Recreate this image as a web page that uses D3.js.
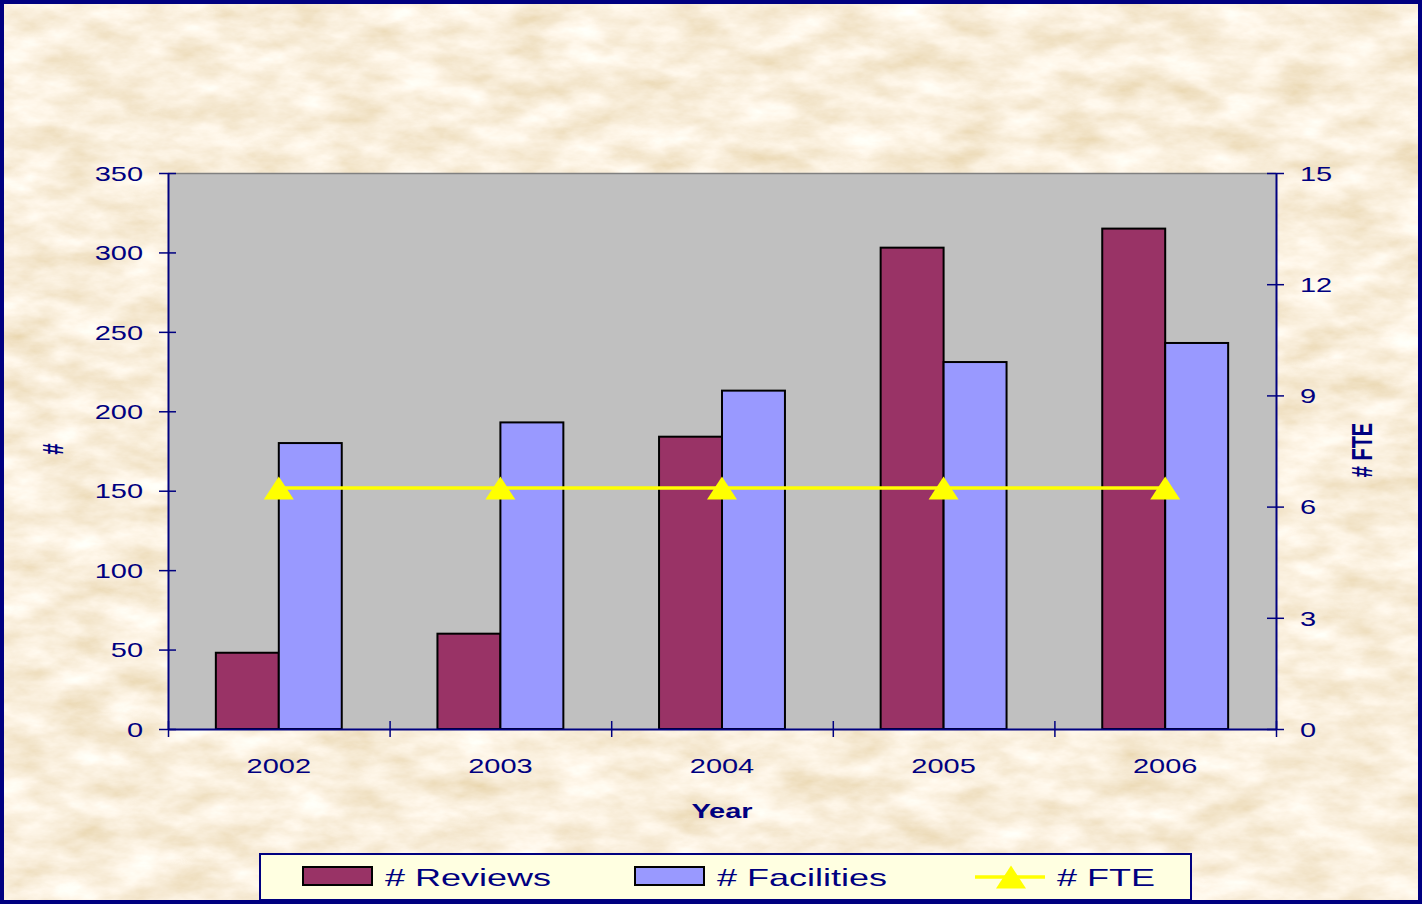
<!DOCTYPE html>
<html>
<head>
<meta charset="utf-8">
<script src="https://cdn.jsdelivr.net/npm/d3@7"></script>
<style>
  body { margin: 0; background: #fff; }
  svg { display: block; font-family: "Liberation Sans", Arial, sans-serif; }
</style>
</head>
<body>
<div id="chart"></div>
<script>
// data
const years = ["2002", "2003", "2004", "2005", "2006"]
const reviews = [48, 60, 184, 303, 315]
const facilities = [180, 193, 213, 231, 243]
const fte = [6.5, 6.5, 6.5, 6.5, 6.5]
const leftTicks = [0, 50, 100, 150, 200, 250, 300, 350]
const rightTicks = [0, 3, 6, 9, 12, 15]
const seriesNames = ["# Reviews", "# Facilities", "# FTE"]
const colors = ["#993366", "#9999ff", "#ffff00"]

const width = 1422, height = 904
const plot = {left: 168, right: 1276, top: 173, bottom: 729}
const navy = "#000080"
const sx = 1.45   // the original is stretched sideways

const svg = d3.select("#chart")
  .append("svg")
  .attr("width", width)
  .attr("height", height)
  .attr("viewBox", [0, 0, width, height])

// parchment background
const defs = svg.append("defs")
const f = defs.append("filter").attr("id", "paper")
  .attr("x", 0).attr("y", 0).attr("width", width).attr("height", height)
  .attr("filterUnits", "userSpaceOnUse")
f.append("feTurbulence")
  .attr("type", "fractalNoise")
  .attr("baseFrequency", "0.018 0.04")
  .attr("numOctaves", 5)
  .attr("seed", 7)
  .attr("result", "n")
f.append("feColorMatrix")
  .attr("in", "n")
  .attr("type", "matrix")
  .attr("values", "0.30 0 0 0 0.80  0.42 0 0 0 0.65  0.65 0 0 0 0.39  0 0 0 0 1")

svg.append("rect")
  .attr("width", width).attr("height", height)
  .attr("filter", "url(#paper)")

svg.append("rect")
  .attr("x", 2).attr("y", 2)
  .attr("width", width - 4).attr("height", height - 4)
  .attr("fill", "none")
  .attr("stroke", navy)
  .attr("stroke-width", 4)

// scales
const x0 = d3.scaleBand(years, [plot.left, plot.right])
const x1 = d3.scaleBand(["r", "f"], [0, x0.bandwidth()]).paddingOuter(0.76)
const xEdge = d3.scaleLinear([0, years.length], [plot.left, plot.right])
const y = d3.scaleLinear([0, 350], [plot.bottom, plot.top])
const y2 = d3.scaleLinear([0, 15], [plot.bottom, plot.top])

// plot area
svg.append("rect")
  .attr("x", plot.left).attr("y", plot.top)
  .attr("width", plot.right - plot.left)
  .attr("height", plot.bottom - plot.top)
  .attr("fill", "#c0c0c0")
svg.append("line")
  .attr("x1", plot.left).attr("x2", plot.right)
  .attr("y1", plot.top + 0.5).attr("y2", plot.top + 0.5)
  .attr("stroke", "#808080").attr("stroke-width", 1.5)

// bars
const rows = years.map((d, i) => ({year: d, r: reviews[i], f: facilities[i]}))
svg.append("g")
  .selectAll("g")
  .data(rows)
  .join("g")
    .attr("transform", d => `translate(${x0(d.year)},0)`)
  .selectAll("rect")
  .data(d => [{k: "r", v: d.r}, {k: "f", v: d.f}])
  .join("rect")
    .attr("x", d => x1(d.k))
    .attr("y", d => y(d.v))
    .attr("width", x1.bandwidth())
    .attr("height", d => y(0) - y(d.v))
    .attr("fill", d => d.k == "r" ? colors[0] : colors[1])
    .attr("stroke", "#000")
    .attr("stroke-width", 2)

// axes
function styleAxis(g) {
  g.select(".domain").attr("stroke", navy).attr("stroke-width", 2)
  g.selectAll(".tick line").attr("stroke", navy).attr("stroke-width", 1.5)
  g.selectAll(".tick text")
    .attr("fill", navy)
    .attr("font-size", 20)
    .attr("font-family", "Liberation Sans, Arial, sans-serif")
}

const gl = svg.append("g")
  .attr("transform", `translate(${plot.left},0)`)
  .call(d3.axisLeft(y).tickValues(leftTicks).tickSizeOuter(0))
  .call(styleAxis)
gl.selectAll(".tick line").attr("x1", 8).attr("x2", -9)
gl.selectAll(".tick text")
  .attr("x", -25 / sx)
  .attr("dy", "0.36em")
  .attr("transform", `scale(${sx},1)`)

const gr = svg.append("g")
  .attr("transform", `translate(${plot.right},0)`)
  .call(d3.axisRight(y2).tickValues(rightTicks).tickSizeOuter(0))
  .call(styleAxis)
gr.selectAll(".tick line").attr("x1", -9).attr("x2", 8)
gr.selectAll(".tick text")
  .attr("x", 24 / sx)
  .attr("dy", "0.36em")
  .attr("transform", `scale(${sx},1)`)

const gb = svg.append("g")
  .attr("transform", `translate(0,${plot.bottom})`)
  .call(d3.axisBottom(xEdge).tickValues(d3.range(years.length + 1)).tickFormat("").tickSizeOuter(0))
  .call(styleAxis)
gb.selectAll(".tick line").attr("y1", -8).attr("y2", 8)

const gbl = svg.append("g")
  .attr("transform", `translate(0,${plot.bottom})`)
  .call(d3.axisBottom(x0).tickSize(0))
  .call(styleAxis)
gbl.select(".domain").remove()
gbl.selectAll(".tick text")
  .attr("y", 44).attr("dy", 0)
  .attr("transform", `scale(${sx},1)`)

// FTE line
const lineX = (d, i) => x0(years[i]) + x0.bandwidth() / 2
svg.append("path")
  .datum(fte)
  .attr("fill", "none")
  .attr("stroke", colors[2])
  .attr("stroke-width", 3.5)
  .attr("d", d3.line().x(lineX).y(d => y2(d)))

const tri = "M0,-11.5L15,11.5L-15,11.5Z"
svg.append("g")
  .selectAll("path")
  .data(fte)
  .join("path")
    .attr("d", tri)
    .attr("fill", colors[2])
    .attr("transform", (d, i) => `translate(${lineX(d, i)},${y2(d)})`)

// titles
svg.append("text")
  .attr("transform", `translate(${(plot.left + plot.right) / 2},818) scale(${sx},1)`)
  .attr("text-anchor", "middle")
  .attr("font-size", 20).attr("font-weight", "bold")
  .attr("fill", navy)
  .text("Year")

svg.append("text")
  .attr("transform", `translate(53,449) rotate(-90) scale(1,${sx})`)
  .attr("text-anchor", "middle")
  .attr("dominant-baseline", "central")
  .attr("font-size", 20).attr("font-weight", "bold")
  .attr("fill", navy)
  .text("#")

svg.append("text")
  .attr("transform", `translate(1362,450) rotate(-90) scale(1,${sx})`)
  .attr("text-anchor", "middle")
  .attr("dominant-baseline", "central")
  .attr("font-size", 20).attr("font-weight", "bold")
  .attr("fill", navy)
  .text("# FTE")

// legend
const legend = svg.append("g")
legend.append("rect")
  .attr("x", 260).attr("y", 854)
  .attr("width", 931).attr("height", 46)
  .attr("fill", "#ffffe1")
  .attr("stroke", navy)
  .attr("stroke-width", 2)

const legX = [303, 635, 975]
const legTextX = [385, 717, 1057]
seriesNames.forEach((name, i) => {
  if (i < 2) {
    legend.append("rect")
      .attr("x", legX[i]).attr("y", 867)
      .attr("width", 69).attr("height", 18)
      .attr("fill", colors[i])
      .attr("stroke", "#000")
      .attr("stroke-width", 2)
  } else {
    legend.append("line")
      .attr("x1", legX[i]).attr("x2", legX[i] + 70)
      .attr("y1", 877).attr("y2", 877)
      .attr("stroke", colors[2]).attr("stroke-width", 3.5)
    legend.append("path")
      .attr("d", tri)
      .attr("fill", colors[2])
      .attr("transform", `translate(${legX[i] + 36},877)`)
  }
  legend.append("text")
    .attr("transform", `translate(${legTextX[i]},886) scale(1.5,1)`)
    .attr("font-size", 24)
    .attr("fill", navy)
    .text(name)
})
</script>
</body>
</html>
